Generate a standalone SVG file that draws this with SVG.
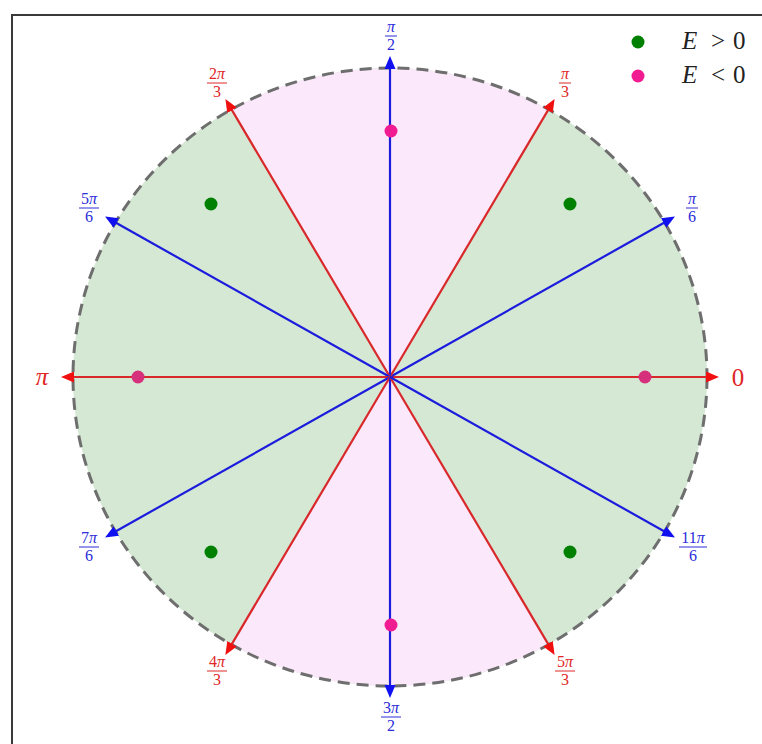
<svg xmlns="http://www.w3.org/2000/svg" width="762" height="744" viewBox="0 0 762 744">
<style>
.red{stroke:#d8282a;stroke-width:2.2;fill:none}
.blue{stroke:#1c1cdc;stroke-width:2.2;fill:none}
.lr{fill:#e02626;font-family:"Liberation Serif","DejaVu Serif",serif;font-size:16px;text-anchor:middle}
.lb{fill:#2c2cd8;font-family:"Liberation Serif","DejaVu Serif",serif;font-size:16px;text-anchor:middle}
.barr{stroke:#e02626;stroke-width:1}
.barb{stroke:#2c2cd8;stroke-width:1}
.pi{font-style:italic}
.leg{font-family:"Liberation Serif","DejaVu Serif",serif;font-size:25px;fill:#222}
</style>
<defs>
<marker id="ar" markerUnits="userSpaceOnUse" markerWidth="16" markerHeight="14" refX="1" refY="6" orient="auto">
<path d="M0,0.5 L13,6 L0,11.5 Z" fill="#f01010"/>
</marker>
<marker id="ab" markerUnits="userSpaceOnUse" markerWidth="16" markerHeight="14" refX="1" refY="6" orient="auto">
<path d="M0,0.5 L13,6 L0,11.5 Z" fill="#1010f0"/>
</marker>
</defs>
<rect width="762" height="744" fill="#ffffff"/>
<rect x="12" y="15" width="800" height="800" fill="none" stroke="#3a3a3a" stroke-width="2"/>

<g id="sectors">
<ellipse cx="390" cy="377" rx="317" ry="309" fill="#d5e8d4"/>
<path d="M390,377 L548.5,109.4 A317,309 0 0 0 231.5,109.4 Z" fill="#fce8fb"/>
<path d="M390,377 L231.5,644.6 A317,309 0 0 0 548.5,644.6 Z" fill="#fce8fb"/>
</g>
<g id="boundary">
<ellipse cx="390" cy="377" rx="317" ry="309" fill="none" stroke="#6e6e6e" stroke-width="3" stroke-dasharray="12,7"/>
</g>

<g id="connectors">
<line class="red" x1="390" y1="377" x2="707" y2="377" marker-end="url(#ar)"/>
<line class="blue" x1="390" y1="377" x2="664.5" y2="222.5" marker-end="url(#ab)"/>
<line class="red" x1="390" y1="377" x2="548.5" y2="109.4" marker-end="url(#ar)"/>
<line class="blue" x1="390" y1="377" x2="390" y2="68" marker-end="url(#ab)"/>
<line class="red" x1="390" y1="377" x2="231.5" y2="109.4" marker-end="url(#ar)"/>
<line class="blue" x1="390" y1="377" x2="115.5" y2="222.5" marker-end="url(#ab)"/>
<line class="red" x1="390" y1="377" x2="73" y2="377" marker-end="url(#ar)"/>
<line class="blue" x1="390" y1="377" x2="115.5" y2="531.5" marker-end="url(#ab)"/>
<line class="red" x1="390" y1="377" x2="231.5" y2="644.6" marker-end="url(#ar)"/>
<line class="blue" x1="390" y1="377" x2="390" y2="686" marker-end="url(#ab)"/>
<line class="red" x1="390" y1="377" x2="548.5" y2="644.6" marker-end="url(#ar)"/>
<line class="blue" x1="390" y1="377" x2="664.5" y2="531.5" marker-end="url(#ab)"/>
</g>

<g id="points">
<circle cx="211" cy="204" r="6.5" fill="#008000"/>
<circle cx="570" cy="204" r="6.5" fill="#008000"/>
<circle cx="211" cy="552" r="6.5" fill="#008000"/>
<circle cx="570" cy="552" r="6.5" fill="#008000"/>
<circle cx="391" cy="131" r="6.5" fill="#f21c92"/>
<circle cx="391" cy="625" r="6.5" fill="#f21c92"/>
<circle cx="138" cy="377" r="6.5" fill="#d6307c"/>
<circle cx="645" cy="377" r="6.5" fill="#d6307c"/>
</g>

<g id="labels">
<text x="738" y="386" class="lr" style="font-size:25px">0</text>
<text x="42" y="385" class="lr" style="font-size:25px"><tspan class="pi">π</tspan></text>

<g id="l-pi6"><text x="692" y="204" class="lb"><tspan class="pi">π</tspan></text><line class="barb" x1="686" y1="208" x2="698" y2="208"/><text x="692" y="222" class="lb">6</text></g>
<g id="l-pi3"><text x="565" y="79" class="lr"><tspan class="pi">π</tspan></text><line class="barr" x1="559" y1="83" x2="571" y2="83"/><text x="565" y="97" class="lr">3</text></g>
<g id="l-pi2"><text x="391" y="32" class="lb"><tspan class="pi">π</tspan></text><line class="barb" x1="385" y1="36" x2="397" y2="36"/><text x="391" y="50" class="lb">2</text></g>
<g id="l-2pi3"><text x="217" y="79" class="lr">2<tspan class="pi">π</tspan></text><line class="barr" x1="207" y1="83" x2="227" y2="83"/><text x="217" y="97" class="lr">3</text></g>
<g id="l-5pi6"><text x="89" y="204" class="lb">5<tspan class="pi">π</tspan></text><line class="barb" x1="79" y1="208" x2="99" y2="208"/><text x="89" y="222" class="lb">6</text></g>
<g id="l-7pi6"><text x="89" y="543" class="lb">7<tspan class="pi">π</tspan></text><line class="barb" x1="79" y1="547" x2="99" y2="547"/><text x="89" y="561" class="lb">6</text></g>
<g id="l-4pi3"><text x="217" y="667" class="lr">4<tspan class="pi">π</tspan></text><line class="barr" x1="207" y1="671" x2="227" y2="671"/><text x="217" y="685" class="lr">3</text></g>
<g id="l-3pi2"><text x="391" y="713" class="lb">3<tspan class="pi">π</tspan></text><line class="barb" x1="381" y1="717" x2="401" y2="717"/><text x="391" y="731" class="lb">2</text></g>
<g id="l-5pi3"><text x="565" y="667" class="lr">5<tspan class="pi">π</tspan></text><line class="barr" x1="555" y1="671" x2="575" y2="671"/><text x="565" y="685" class="lr">3</text></g>
<g id="l-11pi6"><text x="693" y="543" class="lb">11<tspan class="pi">π</tspan></text><line class="barb" x1="679" y1="547" x2="707" y2="547"/><text x="693" y="561" class="lb">6</text></g>
</g>

<g id="legend">
<circle cx="638" cy="42" r="6.5" fill="#008000"/>
<text class="leg" y="49"><tspan x="682" font-style="italic">E</tspan><tspan x="711">&gt;</tspan><tspan x="733">0</tspan></text>
<circle cx="638" cy="76" r="6.5" fill="#f21c92"/>
<text class="leg" y="83"><tspan x="682" font-style="italic">E</tspan><tspan x="711">&lt;</tspan><tspan x="733">0</tspan></text>
</g>
</svg>
